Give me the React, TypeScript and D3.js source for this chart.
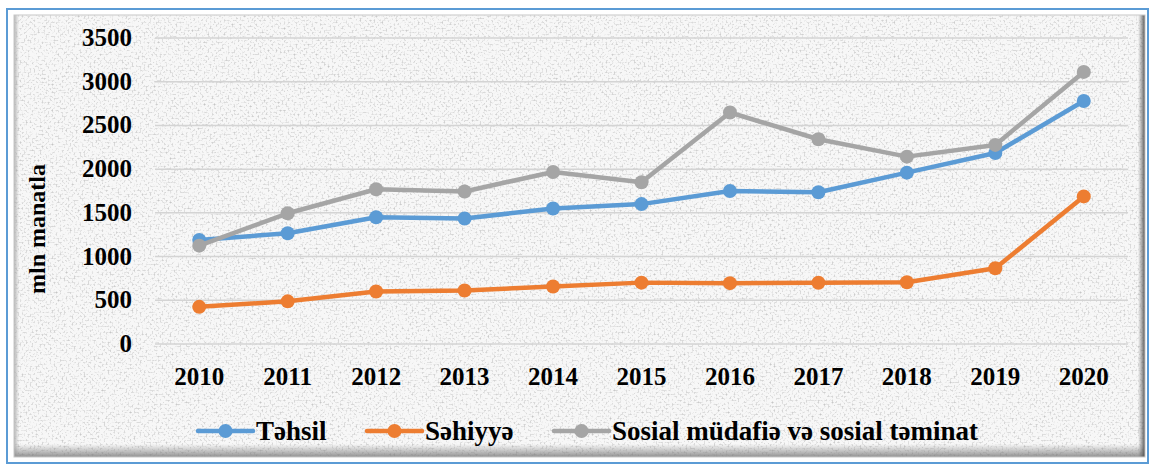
import React, { useEffect, useRef } from 'react';
import * as d3 from 'd3';

const years = ['2010', '2011', '2012', '2013', '2014', '2015', '2016', '2017', '2018', '2019', '2020'];
const tehsil = [1190, 1266, 1450, 1435, 1550, 1600, 1750, 1735, 1960, 2185, 2780];
const sehiyye = [425, 488, 600, 612, 658, 702, 696, 700, 706, 866, 1688];
const sosial = [1125, 1495, 1770, 1745, 1968, 1850, 2648, 2342, 2143, 2277, 3112];
const yTicks = [0, 500, 1000, 1500, 2000, 2500, 3000, 3500];
const seriesNames = ['Təhsil', 'Səhiyyə', 'Sosial müdafiə və sosial təminat'];
const seriesColors = ['#5b9bd5', '#ed7d31', '#a5a5a5'];

const W = 1151;
const H = 466;
const FONT = '"Liberation Serif", "Times New Roman", serif';

const App = () => {
    const ref = useRef<SVGSVGElement>(null);

    useEffect(() => {
        const svg = d3.select(ref.current);
        svg.selectAll('*').remove();

        const defs = svg.append('defs');
        const filter = defs.append('filter').attr('id', 'tex')
            .attr('x', 0).attr('y', 0).attr('width', '100%').attr('height', '100%');
        filter.append('feTurbulence')
            .attr('type', 'fractalNoise').attr('baseFrequency', '0.5')
            .attr('numOctaves', 3).attr('seed', 7).attr('result', 'n');
        filter.append('feColorMatrix')
            .attr('type', 'matrix')
            .attr('values', '0 0 0 0 0.5  0 0 0 0 0.5  0 0 0 0 0.5  2.4 0 0 0 -1.2');
        filter.append('feComposite').attr('in2', 'SourceGraphic').attr('operator', 'in');

        const gB = defs.append('linearGradient').attr('id', 'shB').attr('x1', 0).attr('y1', 0).attr('x2', 0).attr('y2', 1);
        gB.append('stop').attr('offset', '0%').attr('stop-color', '#888').attr('stop-opacity', 0);
        gB.append('stop').attr('offset', '100%').attr('stop-color', '#777').attr('stop-opacity', 0.8);
        const gR = defs.append('linearGradient').attr('id', 'shR').attr('x1', 0).attr('y1', 0).attr('x2', 1).attr('y2', 0);
        gR.append('stop').attr('offset', '0%').attr('stop-color', '#666').attr('stop-opacity', 0);
        gR.append('stop').attr('offset', '100%').attr('stop-color', '#444').attr('stop-opacity', 0.9);
        const gL = defs.append('linearGradient').attr('id', 'shL').attr('x1', 0).attr('y1', 0).attr('x2', 1).attr('y2', 0);
        gL.append('stop').attr('offset', '0%').attr('stop-color', '#999').attr('stop-opacity', 0.7);
        gL.append('stop').attr('offset', '100%').attr('stop-color', '#999').attr('stop-opacity', 0);

        // page + frame
        svg.append('rect').attr('width', W).attr('height', H).attr('fill', '#fff');
        svg.append('rect').attr('x', 14).attr('y', 15).attr('width', 1131).attr('height', 442).attr('fill', '#f7f7f7');
        svg.append('rect').attr('x', 14).attr('y', 15).attr('width', 1131).attr('height', 442)
            .attr('fill', '#fff').attr('filter', 'url(#tex)');
        svg.append('rect').attr('x', 14).attr('y', 444).attr('width', 1131).attr('height', 13).attr('fill', 'url(#shB)');
        svg.append('rect').attr('x', 1138).attr('y', 15).attr('width', 7).attr('height', 442).attr('fill', 'url(#shR)');
        svg.append('rect').attr('x', 14).attr('y', 15).attr('width', 5).attr('height', 442).attr('fill', 'url(#shL)');
        svg.append('rect').attr('x', 14).attr('y', 15).attr('width', 1131).attr('height', 442)
            .attr('fill', 'none').attr('stroke', '#c8c8c8').attr('stroke-width', 1);
        svg.append('rect').attr('x', 7).attr('y', 9).attr('width', 1141).attr('height', 454)
            .attr('fill', 'none').attr('stroke', '#5b9bd5').attr('stroke-width', 2);

        const margin = { left: 155, right: 1128, top: 38, bottom: 344 };

        const x = d3.scaleBand().domain(years).range([margin.left, margin.right]);
        const y = d3.scaleLinear().domain([0, 3500]).range([margin.bottom, margin.top]);
        const cx = (d: string) => (x(d) as number) + x.bandwidth() / 2;

        // grid
        svg.append('g').selectAll('line').data(yTicks).join('line')
            .attr('x1', margin.left).attr('x2', margin.right)
            .attr('y1', d => y(d)).attr('y2', d => y(d))
            .attr('stroke', '#d4d4d4').attr('stroke-width', 1.5);

        // y axis labels
        svg.append('g').selectAll('text').data(yTicks).join('text')
            .attr('x', 132).attr('y', d => y(d) + 8)
            .attr('text-anchor', 'end')
            .attr('font-family', FONT).attr('font-weight', 'bold').attr('font-size', 25)
            .text(d => d);

        // x axis labels
        svg.append('g').selectAll('text').data(years).join('text')
            .attr('x', d => cx(d)).attr('y', 385)
            .attr('text-anchor', 'middle')
            .attr('font-family', FONT).attr('font-weight', 'bold').attr('font-size', 25)
            .text(d => d);

        svg.append('text')
            .attr('transform', `translate(45, 229) rotate(-90)`)
            .attr('text-anchor', 'middle')
            .attr('font-family', FONT).attr('font-weight', 'bold').attr('font-size', 24)
            .text('mln manatla');

        const allSeries = [tehsil, sehiyye, sosial];
        const line = d3.line<number>().x((d, i) => cx(years[i])).y(d => y(d));

        allSeries.forEach((vals, s) => {
            const g = svg.append('g');
            g.append('path').datum(vals)
                .attr('d', line)
                .attr('fill', 'none')
                .attr('stroke', seriesColors[s])
                .attr('stroke-width', 4.5)
                .attr('stroke-linejoin', 'round');
            g.selectAll('circle').data(vals).join('circle')
                .attr('cx', (d, i) => cx(years[i]))
                .attr('cy', d => y(d))
                .attr('r', 7)
                .attr('fill', seriesColors[s]);
        });

        // legend
        const legendX = [198, 367, 554];
        const legendY = 431;
        seriesNames.forEach((name, s) => {
            const lg = svg.append('g').attr('transform', `translate(${legendX[s]}, ${legendY})`);
            lg.append('line').attr('x1', 0).attr('x2', 55).attr('y1', 0).attr('y2', 0)
                .attr('stroke', seriesColors[s]).attr('stroke-width', 4.5).attr('stroke-linecap', 'round');
            lg.append('circle').attr('cx', 27.5).attr('cy', 0).attr('r', 7).attr('fill', seriesColors[s]);
            lg.append('text').attr('x', 58).attr('y', 9)
                .attr('font-family', FONT).attr('font-weight', 'bold').attr('font-size', 27)
                .text(name);
        });
    }, []);

    return (
        <svg ref={ref} width={W} height={H} style={{ position: 'absolute', left: 0, top: 0 }} />
    );
};

export default App;
